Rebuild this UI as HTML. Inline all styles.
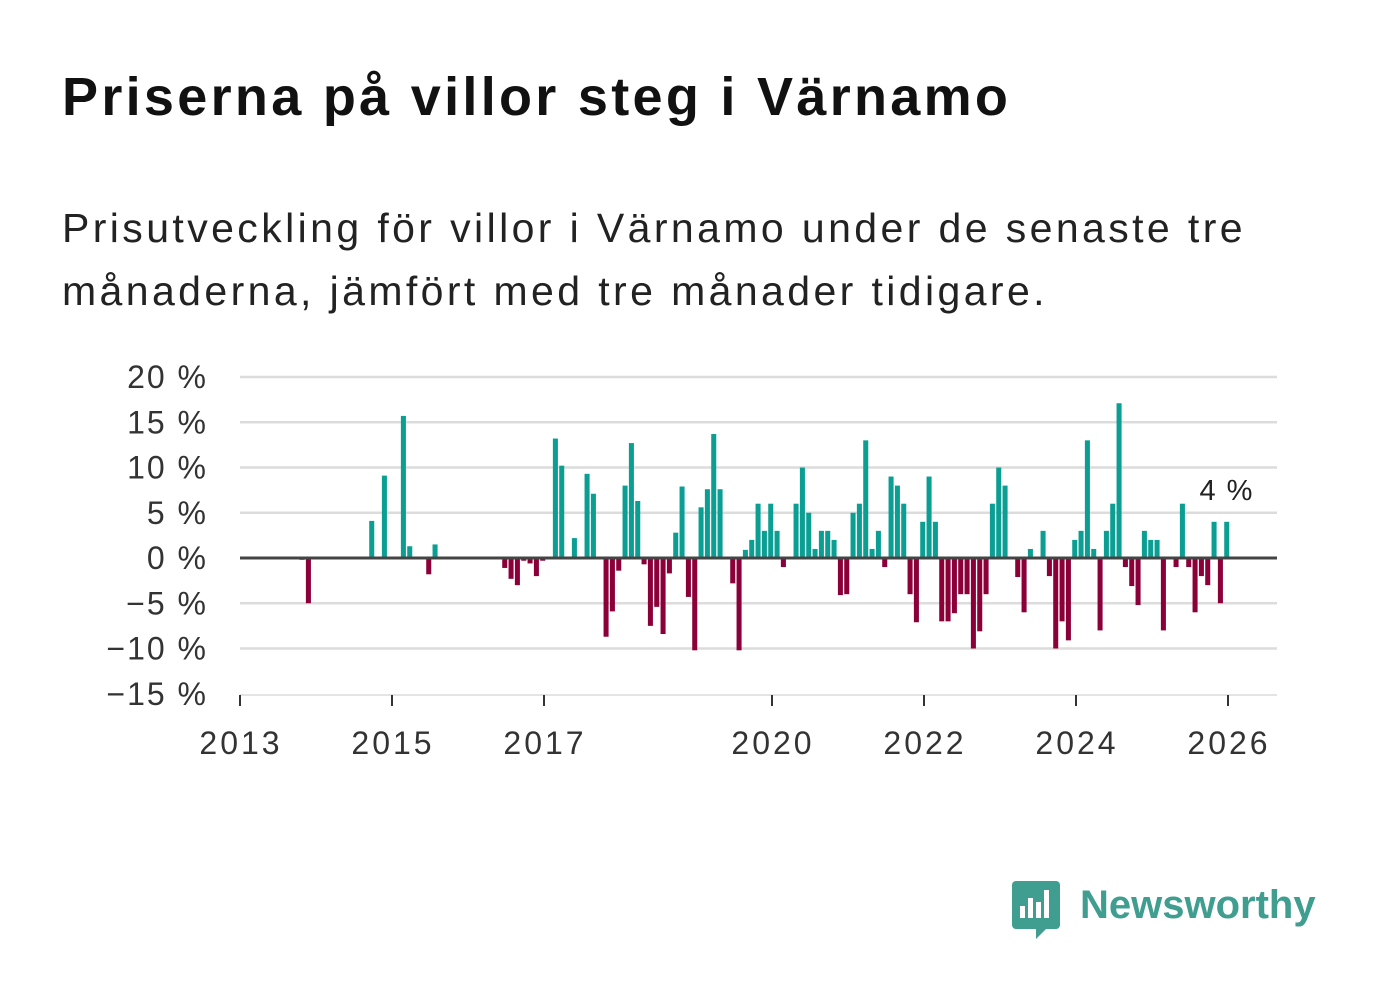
<!DOCTYPE html>
<html><head><meta charset="utf-8"><style>
body{margin:0;background:#fff;width:1382px;height:999px;overflow:hidden;font-family:"Liberation Sans",sans-serif}
#title{position:absolute;left:62px;top:66px;font-size:54px;font-weight:bold;color:#111;margin:0;letter-spacing:3.3px}
#sub{position:absolute;left:62px;top:197px;font-size:41px;line-height:63px;color:#222;width:1310px;letter-spacing:3.4px}
svg{position:absolute;left:0;top:0}
</style></head><body>
<h1 id="title">Priserna på villor steg i Värnamo</h1>
<div id="sub">Prisutveckling för villor i Värnamo under de senaste tre<br>månaderna, jämfört med tre månader tidigare.</div>
<svg id="chart" width="1382" height="999"></svg>
<script>
const yTicks=[20,15,10,5,0,-5,-10,-15];
const yTickLabels=["20 %","15 %","10 %","5 %","0 %","−5 %","−10 %","−15 %"];
const xTickYears=[2013,2015,2017,2020,2022,2024,2026];
const values=[
0,0,0,0,0,0,0,0,0,-0.2,-5,0,
0,0,0,0,0,0,0,0,4.1,0,9.1,0,
0,15.7,1.3,0,0,-1.8,1.5,0,0,0,0,0,
0,0,0,0,0,-1.1,-2.3,-3,-0.3,-0.6,-2,-0.3,
0,13.2,10.2,0,2.2,0,9.3,7.1,0,-8.7,-5.9,-1.4,
8,12.7,6.3,-0.7,-7.5,-5.4,-8.4,-1.7,2.8,7.9,-4.3,-10.2,
5.6,7.6,13.7,7.6,0,-2.8,-10.2,0.9,2,6,3,6,
3,-1,0,6,10,5,1,3,3,2,-4.1,-4,
5,6,13,1,3,-1,9,8,6,-4,-7.1,4,
9,4,-7,-7,-6.1,-4,-4,-10,-8.1,-4,6,10,
8,0,-2.1,-6,1,0,3,-2,-10,-7,-9.1,2,
3,13,1,-8,3,6,17.1,-1,-3.1,-5.2,3,2,
2,-8,0,-1,6,-1,-6,-2,-3,4,-5,4
];
const categories=values.map((v,i)=>(2013+Math.floor(i/12))+"-"+String(i%12+1).padStart(2,"0"));
const lastLabel="4 %";

const svg=document.getElementById('chart');
const NS="http://www.w3.org/2000/svg";
const X0=240,X1=1228,Y0=558,PPP=(558-377)/20;
const xYear=y=>X0+(y-2013)*(X1-X0)/13;
const xMonth=i=>X0+(i+0.8)*(X1-X0)/156;
const yVal=v=>Y0-v*PPP;
function mk(tag,attrs){const e=document.createElementNS(NS,tag);for(const k in attrs)e.setAttribute(k,attrs[k]);svg.appendChild(e);return e;}
yTicks.forEach((t,i)=>{
  if(t!==0&&t!==-15){const g=mk('line',{x1:X0,x2:1277,y1:yVal(t),y2:yVal(t),stroke:'#dcdcdc','stroke-width':2.5});
  
  }
  const tx=mk('text',{x:208,y:yVal(t)+11,'text-anchor':'end','font-size':32,fill:'#333','letter-spacing':2,'font-family':'Liberation Sans, sans-serif'});
  tx.textContent=yTickLabels[i];
  
  
});
const ax=mk('line',{x1:X0,x2:1277,y1:695,y2:695,stroke:'#dcdcdc','stroke-width':1.5});


xTickYears.forEach(y=>{
  const tk=mk('line',{x1:xYear(y),x2:xYear(y),y1:695,y2:706,stroke:'#333','stroke-width':2});
  
  
  const tx=mk('text',{x:xYear(y)+1,y:754,'text-anchor':'middle','font-size':32,fill:'#333','letter-spacing':3,'font-family':'Liberation Sans, sans-serif'});
  tx.textContent=y;
  
  
});
const bw=(X1-X0)/156-1.3;
values.forEach((v,i)=>{
  if(v===0)return;
  const y1=yVal(Math.max(v,0)),y2=yVal(Math.min(v,0));
  const r=mk('rect',{x:xMonth(i)-bw/2,y:y1,width:bw,height:y2-y1,fill:v>0?'#0b9e93':'#8c0039'});
  
  
});
const zl=mk('line',{x1:X0,x2:1277,y1:Y0,y2:Y0,stroke:'#444','stroke-width':3});


const li=values.length-1;
const lt=mk('text',{x:xMonth(li),y:yVal(values[li])-22,'text-anchor':'middle','font-size':29,fill:'#222','letter-spacing':1.5,'font-family':'Liberation Sans, sans-serif'});
lt.textContent=lastLabel;


</script>
<svg width="1382" height="999" style="pointer-events:none">
<path d="M1016 881 h40 a4 4 0 0 1 4 4 v40 a4 4 0 0 1 -4 4 h-10 l-10 10 v-10 h-20 a4 4 0 0 1 -4 -4 v-40 a4 4 0 0 1 4 -4z" fill="#3f9e90"/>
<rect x="1020" y="906" width="5" height="12" fill="#fff"/><rect x="1028" y="898" width="5" height="20" fill="#fff"/><rect x="1036" y="902" width="5" height="16" fill="#fff"/><rect x="1044" y="890" width="5" height="28" fill="#fff"/>
<text x="1080" y="918" font-size="40" font-weight="bold" fill="#3f9e90" font-family="Liberation Sans, sans-serif">Newsworthy</text>
</svg>
</body></html>
